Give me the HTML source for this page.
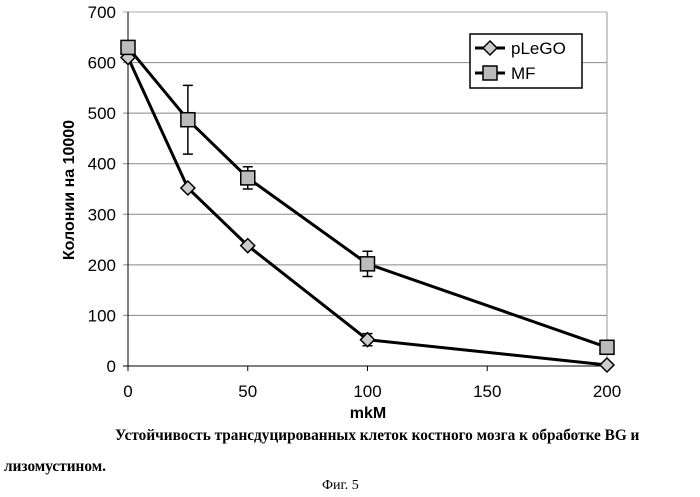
<!DOCTYPE html>
<html><head><meta charset="utf-8"><style>
body{margin:0;background:#fff;width:700px;height:497px;overflow:hidden;font-family:"Liberation Sans",sans-serif}
.cap{position:absolute;font-family:"Liberation Serif","Noto Serif CJK SC",serif;font-weight:bold;font-size:15.3px;color:#000}
</style></head><body>
<svg id="chart" width="700" height="497" style="position:absolute;left:0;top:0" font-family="Liberation Sans, sans-serif"></svg>
<div class="cap" style="left:115px;top:427px">Устойчивость трансдуцированных клеток костного мозга к обработке BG и</div>
<div class="cap" style="left:4px;top:458px">лизомустином.</div>
<div class="cap" style="left:322px;top:478px;font-weight:normal;font-size:14px">Фиг. 5</div>
<script>
const xVals=[0,25,50,100,200];
const plegoVals=[610,352,238,52,2];
const plegoErr=[0,0,0,12,0];
const mfVals=[630,487,372,202,37];
const mfErr=[0,68,22,25,0];
const yTicks=[0,100,200,300,400,500,600,700];
const xTicks=[0,50,100,150,200];
const NS="http://www.w3.org/2000/svg";
const svg=document.getElementById('chart');
const X0=128,X1=607,Y0=366,Y1=12;
const sx=v=>X0+(X1-X0)*v/200, sy=v=>Y0-(Y0-Y1)*v/700;
function el(t,a,p){const e=document.createElementNS(NS,t);for(const k in a)e.setAttribute(k,a[k]);(p||svg).appendChild(e);return e;}
yTicks.forEach(t=>{
 const g=el('line',{x1:X0-5,x2:X1,y1:sy(t),y2:sy(t),stroke:t==0?'#000':(t==700?'#aaa':'#888'),'stroke-width':1});
 
 
 const l=el('text',{x:X0-12,y:sy(t)+6,'text-anchor':'end','font-size':17});l.textContent=t;
 
 
});
el('line',{x1:X1,x2:X1,y1:Y1,y2:Y0,stroke:'#999'});
el('line',{x1:X0,x2:X0,y1:Y1,y2:Y0,stroke:'#000'});
xTicks.forEach(t=>{
 el('line',{x1:sx(t),x2:sx(t),y1:Y0,y2:Y0+5,stroke:'#000'});
 const l=el('text',{x:sx(t),y:Y0+31,'text-anchor':'middle','font-size':17});l.textContent=t;
 
 
});
const xt=el('text',{x:368,y:418,'text-anchor':'middle','font-size':16,'font-weight':'bold'});xt.textContent='mkM';


const yt=el('text',{x:0,y:0,'text-anchor':'middle','font-size':16,'font-weight':'bold',transform:'translate(74,190) rotate(-90)'});yt.textContent='Колонии на 10000';


function series(vals,err,name,marker){
 const g=el('g',{});
 
 
 vals.forEach((v,i)=>{if(err[i]>0){const x=sx(xVals[i]);
  el('path',{d:`M${x},${sy(v-err[i])}V${sy(v+err[i])}M${x-5},${sy(v-err[i])}h10M${x-5},${sy(v+err[i])}h10`,stroke:'#000','stroke-width':1.5,fill:'none'},g);}});
 el('polyline',{points:vals.map((v,i)=>sx(xVals[i])+','+sy(v)).join(' '),fill:'none',stroke:'#000','stroke-width':3},g);
 vals.forEach((v,i)=>{const m=marker(sx(xVals[i]),sy(v),g);
  
  });
}
const diamond=(x,y,g)=>el('path',{d:`M${x},${y-7}L${x+7},${y}L${x},${y+7}L${x-7},${y}Z`,fill:'#ccc',stroke:'#000','stroke-width':1.5},g);
const square=(x,y,g)=>el('rect',{x:x-7,y:y-7,width:14,height:14,fill:'#bbb',stroke:'#000','stroke-width':1.5},g);
series(plegoVals,plegoErr,'plego',diamond);
series(mfVals,mfErr,'mf',square);
const lg=el('g',{});


el('rect',{x:470,y:34,width:112,height:54,fill:'#fff',stroke:'#000','stroke-width':1.5},lg);
el('line',{x1:475,x2:505,y1:48,y2:48,stroke:'#000','stroke-width':3},lg);diamond(490,48,lg);
el('line',{x1:475,x2:505,y1:73,y2:73,stroke:'#000','stroke-width':3},lg);square(490,73,lg);
const t1=el('text',{x:511,y:54,'font-size':17},lg);t1.textContent='pLeGO';
const t2=el('text',{x:511,y:79,'font-size':17},lg);t2.textContent='MF';
</script>
</body></html>
